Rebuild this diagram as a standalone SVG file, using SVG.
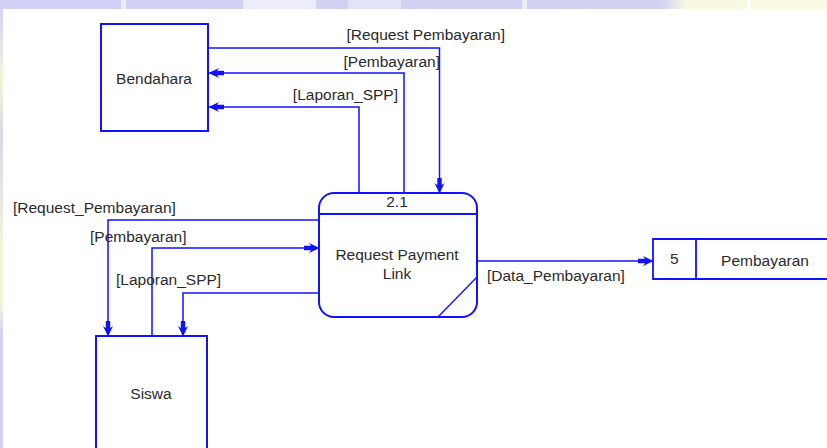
<svg xmlns="http://www.w3.org/2000/svg" width="827" height="448" viewBox="0 0 827 448">
<defs>
<style>
.ln{fill:none;stroke:#1212ff;stroke-width:1.4}
.bx{fill:#fff;stroke:#1212ff;stroke-width:2}
.tx{font-family:"Liberation Sans",Arial,sans-serif;font-size:15.5px;fill:#2a2a2a}
.mid{text-anchor:middle}
.end{text-anchor:end}
.flow{fill:none;stroke:#1212ff;stroke-width:1.5;marker-end:url(#ah)}
</style>
<marker id="ah" markerUnits="userSpaceOnUse" markerWidth="22" markerHeight="14" viewBox="-17 -7 18 14" refX="0" refY="0" orient="auto">
<path d="M0.5,0 L-10,-5 L-8,-2.2 L-15,-2.2 L-15,2.2 L-8,2.2 L-10,5 Z" fill="#1010ff"/>
</marker>
<linearGradient id="topg" x1="0" y1="0" x2="1" y2="0">
<stop offset="0" stop-color="#d0d0f7"/>
<stop offset="0.8" stop-color="#d3d2f2"/>
<stop offset="0.83" stop-color="#f8f8e2"/>
<stop offset="1" stop-color="#fafae0"/>
</linearGradient>
<linearGradient id="leftg" x1="0" y1="0" x2="0" y2="1">
<stop offset="0" stop-color="#d0d0f7"/>
<stop offset="0.18" stop-color="#f4f4dc"/>
<stop offset="0.3" stop-color="#d8d8e8"/>
<stop offset="0.55" stop-color="#f4f4dc"/>
<stop offset="0.68" stop-color="#f4f4dc"/>
<stop offset="0.75" stop-color="#d0d0f7"/>
<stop offset="1" stop-color="#d0d0f7"/>
</linearGradient>
</defs>
<rect x="0" y="0" width="827" height="448" fill="url(#leftg)"/>
<rect x="0" y="0" width="827" height="9" fill="url(#topg)"/>
<g fill="#ececfb">
<rect x="121" y="0" width="5" height="9"/>
<rect x="243" y="0" width="73" height="9"/>
<rect x="348" y="0" width="53" height="9" fill="#e2e2f9"/>
<rect x="522" y="0" width="5" height="9"/>
<rect x="747" y="0" width="4" height="9" fill="#ffffff"/>
</g>
<rect x="3" y="9" width="824" height="439" fill="#ffffff"/>

<g id="connectors">
<path class="flow" d="M208,48 H439.5 V193"/>
<path class="flow" d="M404,193 V73 H209"/>
<path class="flow" d="M359,193 V107 H209"/>
<path class="flow" d="M319,220 H108 V336"/>
<path class="flow" d="M152,336 V248 H319"/>
<path class="flow" d="M319,293 H183 V336"/>
<path class="flow" d="M477,261 H653"/>
<text class="tx end" x="505" y="40">[Request Pembayaran]</text>
<text class="tx end" x="440" y="67">[Pembayaran]</text>
<text class="tx end" x="398" y="100">[Laporan_SPP]</text>
<text class="tx" x="13" y="213">[Request_Pembayaran]</text>
<text class="tx" x="90" y="242">[Pembayaran]</text>
<text class="tx" x="116" y="285">[Laporan_SPP]</text>
<text class="tx" x="487" y="281">[Data_Pembayaran]</text>
</g>

<g id="bendahara">
<rect class="bx" x="101" y="24" width="107" height="107"/>
<text class="tx mid" x="154" y="84">Bendahara</text>
</g>

<g id="process-2-1">
<rect class="bx" x="319" y="193" width="158" height="124" rx="15" ry="15"/>
<line class="ln" x1="319" y1="214" x2="477" y2="214" style="stroke-width:1.8"/>
<line class="ln" x1="438" y1="317" x2="477" y2="277"/>
<text class="tx mid" x="397" y="207">2.1</text>
<text class="tx mid" x="397" y="260">Request Payment</text>
<text class="tx mid" x="397" y="279">Link</text>
</g>

<g id="store-5">
<path class="ln" d="M830,239 H653 V279 H830 M696,239 V279" style="stroke-width:1.8"/>
<text class="tx" x="670" y="264">5</text>
<text class="tx mid" x="765" y="266">Pembayaran</text>
</g>

<g id="siswa">
<rect class="bx" x="96" y="336" width="111" height="130"/>
<text class="tx mid" x="151" y="399">Siswa</text>
</g>
</svg>
